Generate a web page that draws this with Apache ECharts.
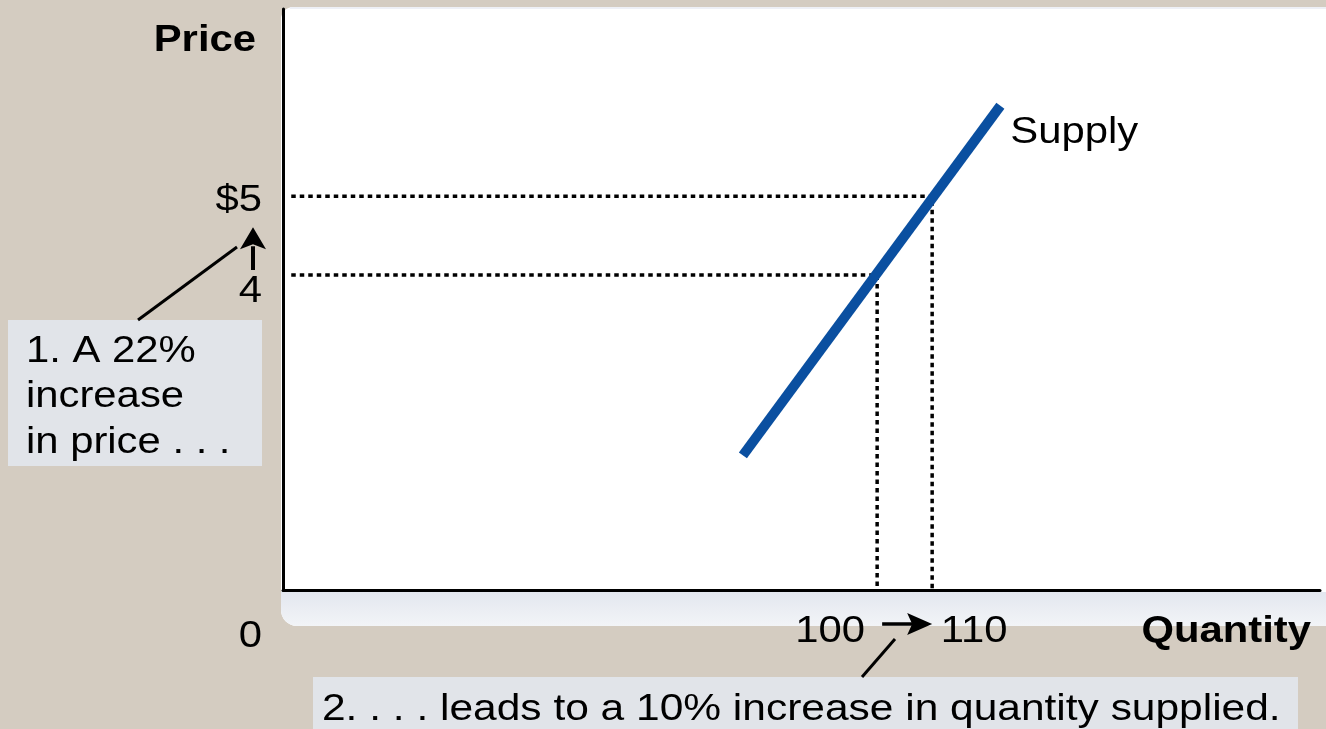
<!DOCTYPE html>
<html>
<head>
<meta charset="utf-8">
<script src="https://cdn.jsdelivr.net/npm/echarts@6/dist/echarts.min.js"></script>
<style>
  html, body { margin: 0; padding: 0; background: #d4ccc1; }
  #chart { width: 1326px; height: 729px; }
</style>
</head>
<body>
<div id="chart"></div>
<script>
// 供给曲线数据
const supplyQty = [75.6, 122.4];
const supplyPrice = [1.71, 6.15];
// 两个价格点 (4 -> 5, 100 -> 110)
const pointQty = [100, 110];
const pointPrice = [4, 5];
// 刻度标签
const priceTicks = [0, 4, 5];
const priceLabels = ['0', '4', '$5'];
const qtyTicks = [100, 110];
const qtyLabels = ['100', '110'];

// 标签的偏移（排版用）
const priceLabelDy = [44, 14.5, 2.5];
const qtyLabelDx = [-47, 42];

const FONT = '"Liberation Sans", Arial, sans-serif';
const SX = 1.13; // 原图文字略宽

const chart = echarts.init(document.getElementById('chart'));

// 虚线：从价格轴到曲线，再到数量轴
function guide(i) {
    return {
        type: 'line',
        data: [[-6.5, pointPrice[i]], [pointQty[i], pointPrice[i]], [pointQty[i], 0]],
        symbol: 'none',
        silent: true,
        z: 2,
        lineStyle: { color: '#000', width: 3.5, type: [4.5, 4] }
    };
}

const option = {
    backgroundColor: '#d4ccc1',
    animation: false,
    grid: { left: 283, top: 9, right: 6, bottom: 139 },
    xAxis: {
        type: 'value',
        min: -8,
        max: 180.5,
        interval: 2,
        splitLine: { show: false },
        axisTick: { show: false },
        axisLabel: { show: false },
        axisLine: { onZero: false, lineStyle: { color: '#000', width: 3 } }
    },
    yAxis: {
        type: 'value',
        min: 0,
        max: 7.378,
        interval: 1,
        splitLine: { show: false },
        axisTick: { show: false },
        axisLabel: { show: false },
        axisLine: { onZero: false, lineStyle: { color: '#000', width: 3 } }
    },
    series: [
        guide(0),
        guide(1),
        {
            name: 'Supply',
            type: 'line',
            data: supplyQty.map((q, i) => [q, supplyPrice[i]]),
            symbol: 'none',
            z: 5,
            lineStyle: { color: '#0a4fa0', width: 10, cap: 'butt' }
        }
    ]
};

chart.setOption(option);

// 文字（横向略微拉伸）
function label(text, x, y, align, bold, sx) {
    return {
        type: 'text', z: 100, x: x, y: y + 2.5, scaleX: sx || SX, silent: true,
        style: {
            text: text, x: 0, y: 0,
            textAlign: align || 'left',
            textVerticalAlign: 'middle',
            font: (bold ? 'bold ' : '') + '37px ' + FONT,
            fill: '#000'
        }
    };
}

const p100 = chart.convertToPixel('grid', [pointQty[0], 0]);
const p110 = chart.convertToPixel('grid', [pointQty[1], 0]);
const py4 = chart.convertToPixel('grid', [0, pointPrice[0]]);
const py5 = chart.convertToPixel('grid', [0, pointPrice[1]]);
const pEnd = chart.convertToPixel('grid', [supplyQty[1], supplyPrice[1]]);

const tickLabels = [];
priceTicks.forEach(function (v, i) {
    const p = chart.convertToPixel('grid', [0, v]);
    tickLabels.push(label(priceLabels[i], 262, p[1] + priceLabelDy[i], 'right'));
});
qtyTicks.forEach(function (v, i) {
    const p = chart.convertToPixel('grid', [v, 0]);
    tickLabels.push(label(qtyLabels[i], p[0] + qtyLabelDx[i], 629, 'center'));
});

chart.setOption({
    graphic: [
        // 白色面板
        {
            type: 'rect', z: -10, silent: true,
            shape: { x: 281, y: 7, width: 1100, height: 619, r: [12, 0, 0, 16] },
            style: { fill: '#ffffff' }
        },
        {
            type: 'rect', z: -9, silent: true,
            shape: { x: 281, y: 592, width: 1100, height: 34, r: [0, 0, 0, 16] },
            style: {
                fill: new echarts.graphic.LinearGradient(0, 0, 0, 1, [
                    { offset: 0, color: '#e3e7ef' },
                    { offset: 1, color: '#f2f4f7' }
                ])
            }
        },
        {
            type: 'rect', z: -9, silent: true,
            shape: { x: 290, y: 7, width: 1100, height: 2 },
            style: { fill: '#eef0f6' }
        },
        // 轴名称、曲线名称
        label('Price', 256, 38, 'right', true),
        label('Quantity', 1311, 629, 'right', true),
        label('Supply', pEnd[0] + 10, pEnd[1] + 25, 'left'),
        // 价格上升箭头
        {
            type: 'line', z: 100,
            shape: { x1: 253, y1: py4[1] - 5, x2: 253, y2: py5[1] + 50 },
            style: { stroke: '#000', lineWidth: 4 }
        },
        {
            type: 'polygon', z: 100,
            shape: { points: [[253, py5[1] + 31], [266, py5[1] + 53], [253, py5[1] + 48], [240, py5[1] + 53]] },
            style: { fill: '#000' }
        },
        // 数量增加箭头
        {
            type: 'line', z: 100,
            shape: { x1: p100[0] + 5, y1: 624, x2: p110[0] - 18, y2: 624 },
            style: { stroke: '#000', lineWidth: 3.5 }
        },
        {
            type: 'polygon', z: 100,
            shape: { points: [[p110[0], 624], [p110[0] - 25, 613], [p110[0] - 20, 624], [p110[0] - 25, 635]] },
            style: { fill: '#000' }
        },
        // 注释 1
        {
            type: 'rect', z: 90,
            shape: { x: 8, y: 320, width: 254, height: 146 },
            style: { fill: '#e1e4e9' }
        },
        {
            type: 'line', z: 100,
            shape: { x1: 138, y1: 320, x2: 237, y2: 247 },
            style: { stroke: '#000', lineWidth: 3 }
        },
        label('1. A 22%', 26, 349),
        label('increase', 26, 394),
        label('in price . . .', 26, 440),
        // 注释 2
        {
            type: 'rect', z: 90,
            shape: { x: 313, y: 677, width: 985, height: 60 },
            style: { fill: '#e1e4e9' }
        },
        {
            type: 'line', z: 100,
            shape: { x1: 862, y1: 677, x2: 895, y2: 639 },
            style: { stroke: '#000', lineWidth: 3 }
        },
        label('2. . . . leads to a 10% increase in quantity supplied.', 322, 707, 'left', false, 1.148)
    ].concat(tickLabels)
});

window.addEventListener('resize', function () {
    chart.resize();
});
</script>
</body>
</html>
